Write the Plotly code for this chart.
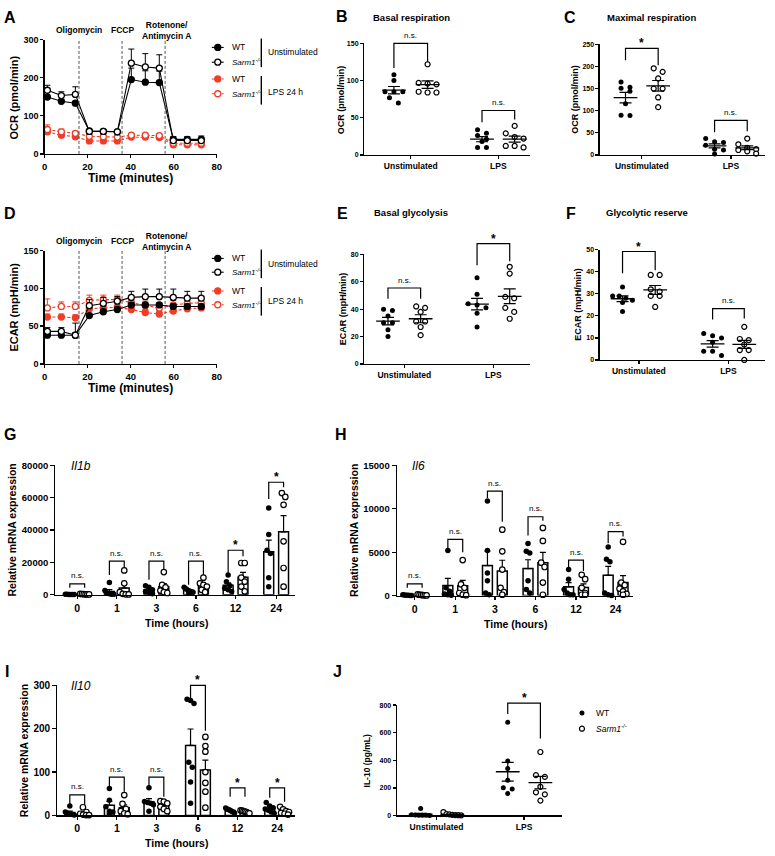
import numpy as np
import plotly.graph_objects as go

W, H = 775, 856
FONT = "Liberation Sans, Arial, Helvetica, sans-serif"
RED = "#F03C28"

# ---------------- DATA ----------------
time_min = [1.3, 7.8, 14.3, 20.8, 27.3, 33.8, 40.3, 46.8, 53.3, 59.8, 66.3, 72.8]
injection_times = [16, 36, 56]
injection_labels = ["Oligomycin", "FCCP", "Rotenone/<br>Antimycin A"]

ocr_wt_unstim = [149, 138, 133, 60, 59, 58, 195, 188, 187, 38, 38, 38]
ocr_wt_unstim_err = [5, 5, 5, 3, 3, 3, 30, 30, 30, 6, 6, 6]
ocr_ko_unstim = [167, 153, 156, 59, 59, 58, 238, 228, 225, 35, 35, 35]
ocr_ko_unstim_err = [13, 10, 20, 3, 3, 3, 37, 35, 35, 10, 10, 12]
ocr_wt_lps = [58, 49, 45, 34, 34, 34, 44, 44, 43, 24, 24, 24]
ocr_wt_lps_err = [5, 4, 4, 3, 3, 3, 3, 3, 3, 2, 2, 2]
ocr_ko_lps = [64, 58, 54, 46, 45, 44, 49, 49, 48, 28, 28, 28]
ocr_ko_lps_err = [12, 7, 5, 4, 4, 4, 4, 4, 4, 3, 3, 3]

ecar_wt_unstim = [38, 38, 38, 64, 69, 72, 78, 78, 78, 76, 76, 76]
ecar_wt_unstim_err = [3, 3, 3, 3, 3, 3, 3, 3, 3, 3, 3, 3]
ecar_ko_unstim = [43, 43, 38, 77, 80, 83, 88, 89, 89, 88, 87, 87]
ecar_ko_unstim_err = [5, 5, 16, 8, 8, 6, 8, 10, 10, 11, 9, 9]
ecar_wt_lps = [62, 62, 61, 73, 74, 75, 72, 68, 66, 70, 73, 74]
ecar_wt_lps_err = [4, 4, 4, 4, 4, 4, 4, 4, 4, 4, 4, 4]
ecar_ko_lps = [74, 76, 76, 84, 85, 85, 81, 77, 74, 78, 80, 81]
ecar_ko_lps_err = [12, 6, 6, 7, 6, 6, 6, 6, 6, 6, 6, 6]

groups = ["Unstimulated", "LPS"]
basal_resp_wt = [[108, 100, 85, 85, 85, 77, 70], [34, 29, 26, 21, 18, 10, 10]]
basal_resp_ko = [[122, 97, 96, 95, 84, 85, 84], [39, 29, 24, 22, 12, 12, 10]]
max_resp_wt = [[165, 153, 151, 144, 116, 90, 89], [37, 30, 28, 22, 13, 11, 2]]
max_resp_ko = [[196, 188, 173, 150, 150, 130, 108], [37, 24, 16, 13, 11, 8, 3]]
basal_gly_wt = [[40, 39, 35, 30, 30, 25, 20], [63, 51, 44, 43, 41, 37, 27]]
basal_gly_ko = [[42, 41, 38, 31, 31, 27, 21], [71, 66, 49, 48, 41, 38, 33]]
gly_res_wt = [[33, 29, 29, 28, 27, 26, 22], [12, 11, 10, 8, 4, 4, 2]]
gly_res_ko = [[38.5, 38.5, 32, 31, 29, 29, 24], [15, 9.5, 9, 7, 4.5, 4.5, 0]]

hours = ["0", "1", "3", "6", "12", "24"]
il1b_wt = [[300, 200, 150, 100, 100, 50], [7500, 2500, 1000, 600, 300, 200],
           [5500, 4500, 3000, 2000, 1500, 500], [4500, 3500, 2500, 2000, 1500, 1000],
           [12200, 8000, 5500, 4000, 3000, 2000], [53700, 37200, 27500, 25500, 10400, 4900]]
il1b_ko = [[500, 400, 300, 200, 150, 100], [15000, 7000, 1500, 500, 200, 100],
           [14000, 6000, 4500, 2500, 1500, 1000], [10500, 7000, 6000, 5000, 3000, 1500],
           [19600, 19600, 10500, 8000, 5000, 2000], [62900, 60500, 55600, 33000, 16500, 4900]]
il6_wt = [[100, 80, 50, 30, 20, 10], [5200, 900, 500, 200, 100, 50],
          [10900, 5200, 2600, 1700, 300, 100], [6000, 5100, 4900, 1700, 700, 300],
          [3000, 1900, 700, 300, 100, 100], [5600, 4200, 3900, 300, 100, 0]]
il6_ko = [[150, 100, 80, 50, 30, 20], [4100, 1300, 900, 300, 100, 50],
          [7600, 5100, 3000, 900, 400, 100], [7800, 6300, 3800, 3300, 1500, 100],
          [2400, 1900, 900, 300, 100, 100], [6200, 1500, 1200, 800, 500, 200, 100]]
il10_wt = [[22, 8, 5, 3, 2, 1], [62, 35, 20, 10, 8, 5], [64, 32, 30, 28, 25, 10],
           [268, 265, 258, 123, 111, 77, 28], [17, 15, 13, 12, 10, 8, 6], [30, 22, 18, 15, 12, 8, 5]]
il10_ko = [[19, 8, 4, 2, 1, 1], [47, 27, 15, 10, 5, 3], [33, 32, 28, 20, 15, 10],
           [181, 160, 147, 100, 75, 55, 18], [12, 11, 10, 9, 8, 6, 5], [20, 14, 10, 8, 6, 4, 2]]

il10_pg_wt = [[50, 5, 3, 2, 1, 1, 0], [675, 395, 340, 256, 201, 192, 160]]
il10_pg_ko = [[25, 10, 8, 5, 3, 2, 1], [460, 292, 280, 208, 168, 153, 108]]

# ---------------- HELPERS ----------------
fig = go.Figure()
ann, shapes = [], []
axn = [0]


def fnt(size, bold=False, italic=False, color="black"):
    return dict(family=FONT, size=size, color=color,
                weight="bold" if bold else "normal", style="italic" if italic else "normal")


def text_px(x, y, text, size, bold=False, italic=False, xanchor="center", angle=0):
    ann.append(dict(x=x / W, y=1 - y / H, xref="paper", yref="paper", text=text, showarrow=False,
                    xanchor=xanchor, yanchor="middle", textangle=angle, font=fnt(size, bold, italic)))


def new_axes(g, ytick, ysize, xtickvals=None, xticktext=None, xsize=9, yticklen=4):
    axn[0] += 1
    s = "" if axn[0] == 1 else str(axn[0])
    common = dict(showline=True, linecolor="black", linewidth=1.3, ticks="outside",
                  tickwidth=1.3, tickcolor="black", showgrid=False, zeroline=False, fixedrange=True)
    xr = g.get("xr", [0, g["x1"] - g["x0"]])
    g["xr"] = xr
    fig.update_layout(**{
        "xaxis" + s: dict(domain=[g["x0"] / W, g["x1"] / W], range=xr, anchor="y" + s, ticklen=3,
                          tickvals=xtickvals, ticktext=xticktext, tickfont=fnt(xsize, True), **common),
        "yaxis" + s: dict(domain=[1 - g["yb"] / H, 1 - g["yt"] / H], range=g["yr"], anchor="x" + s,
                          ticklen=yticklen, tickvals=ytick, ticktext=[str(v) for v in ytick],
                          tickfont=fnt(ysize, True), **common)})
    g["xa"], g["ya"] = "x" + s, "y" + s
    return g


def ypx(g, v):
    v = np.asarray(v, float)
    return g["yb"] - (v - g["yr"][0]) / (g["yr"][1] - g["yr"][0]) * (g["yb"] - g["yt"])


def swarm(yp, dythr, step, maxhw):
    yp = np.asarray(yp, float)
    order = np.argsort(yp)
    offs = np.zeros(len(yp))
    clusters, cur = [], [order[0]]
    for i in order[1:]:
        if abs(yp[i] - yp[cur[0]]) < dythr:
            cur.append(i)
        else:
            clusters.append(cur)
            cur = [i]
    clusters.append(cur)
    for c in clusters:
        k = len(c)
        st = step if (k - 1) * step / 2 <= maxhw else (2 * maxhw / (k - 1))
        for j, i in enumerate(c):
            offs[i] = (j - (k - 1) / 2) * st
    return offs


def mk(filled, size, color="black"):
    return dict(symbol="circle", size=size, color=color if filled else "white",
                line=dict(color=color, width=1.2 if not filled else 0))


def add(tr):
    tr.update(showlegend=False, hoverinfo="skip")
    fig.add_trace(tr)


def bracket(xl, xr, top, lb, rb, text):
    path = (f"M {xl / W} {1 - lb / H} L {xl / W} {1 - top / H} "
            f"L {xr / W} {1 - top / H} L {xr / W} {1 - rb / H}")
    shapes.append(dict(type="path", xref="paper", yref="paper", path=path,
                       line=dict(color="black", width=1.2)))
    if text == "*":
        text_px((xl + xr) / 2, top - 5, "*", 12, bold=True)
    else:
        text_px((xl + xr) / 2, top - 8, "n.s.", 8)


def time_panel(g, series):
    for y, err, color, filled, dashed in series:
        add(go.Scatter(x=time_min, y=y, mode="lines+markers", xaxis=g["xa"], yaxis=g["ya"],
                       cliponaxis=False,
                       line=dict(color=color, width=1.1, dash="3px,2px" if dashed else "solid"),
                       marker=dict(symbol="circle", size=6, color=color if filled else "white",
                                   line=dict(color=color, width=1.3)),
                       error_y=dict(type="data", array=err, arrayminus=[0] * len(err), symmetric=False,
                                    color=color, thickness=1.0, width=3)))
    for t in injection_times:
        shapes.append(dict(type="line", xref=g["xa"], yref=g["ya"], x0=t, x1=t, y0=g["yr"][0],
                           y1=g["yr"][1], line=dict(color="#555555", width=1, dash="3px,2px")))


def dot_panel(g, centers, wt, ko, ms=5, step=9, maxhw=10, dythr=5.5):
    for sets, cx_list, filled in [(wt, centers[0::2], True), (ko, centers[1::2], False)]:
        for vals, cx in zip(sets, cx_list):
            vals = np.asarray(vals, float)
            offs = swarm(ypx(g, vals), dythr, step, maxhw)
            xc = cx - g["x0"]
            add(go.Scatter(x=xc + offs, y=vals, mode="markers", marker=mk(filled, ms),
                           xaxis=g["xa"], yaxis=g["ya"], cliponaxis=False))
            m = vals.mean()
            se = vals.std(ddof=1) / np.sqrt(len(vals))
            add(go.Scatter(x=[xc - 12, xc + 12], y=[m, m], mode="lines",
                           line=dict(color="black", width=1.3), xaxis=g["xa"], yaxis=g["ya"]))
            add(go.Scatter(x=[xc], y=[m], mode="markers", marker=dict(size=1, color="rgba(0,0,0,0)"),
                           error_y=dict(type="data", array=[se], color="black", thickness=1.2, width=6),
                           xaxis=g["xa"], yaxis=g["ya"]))


def bar_panel(g, cats, wt, ko, off=7.5, bw=10, ms=5.5):
    for sets, sign, filled in [(wt, -1, True), (ko, 1, False)]:
        xs = [c + sign * off - g["x0"] for c in cats]
        means = [float(np.mean(s)) for s in sets]
        sems = [float(np.std(s, ddof=1) / np.sqrt(len(s))) for s in sets]
        add(go.Bar(x=xs, y=means, width=bw, xaxis=g["xa"], yaxis=g["ya"],
                   marker=dict(color="white", line=dict(color="black", width=1.5)),
                   error_y=dict(type="data", array=sems, arrayminus=[0] * len(sems), symmetric=False,
                                color="black", thickness=1.2, width=3)))
        for s, x in zip(sets, xs):
            s = np.asarray(s, float)
            offs = swarm(ypx(g, s), ms, 3.5, 4.5)
            add(go.Scatter(x=x + offs, y=s, mode="markers", marker=mk(filled, ms),
                           xaxis=g["xa"], yaxis=g["ya"], cliponaxis=False))


# ---------------- PANELS ----------------
gA = new_axes(dict(x0=42, x1=216, yt=34, yb=150, xr=[0, 80], yr=[0, 300]), [0, 100, 200, 300], 9,
              [0, 20, 40, 60, 80], ["0", "20", "40", "60", "80"], 9.5, yticklen=3)
gD = new_axes(dict(x0=42, x1=216, yt=248, yb=363, xr=[0, 80], yr=[0, 150]), [0, 50, 100, 150], 9,
              [0, 20, 40, 60, 80], ["0", "20", "40", "60", "80"], 9.5, yticklen=3)
time_panel(gA, [(ocr_wt_lps, ocr_wt_lps_err, RED, True, True),
                (ocr_ko_lps, ocr_ko_lps_err, RED, False, True),
                (ocr_wt_unstim, ocr_wt_unstim_err, "black", True, False),
                (ocr_ko_unstim, ocr_ko_unstim_err, "black", False, False)])
time_panel(gD, [(ecar_wt_lps, ecar_wt_lps_err, RED, True, True),
                (ecar_ko_lps, ecar_ko_lps_err, RED, False, True),
                (ecar_wt_unstim, ecar_wt_unstim_err, "black", True, False),
                (ecar_ko_unstim, ecar_ko_unstim_err, "black", False, False)])

dot_specs = [
    (dict(x0=365, x1=533, yt=38, yb=151, yr=[0, 150]), [0, 50, 100, 150], [395, 429, 484, 517],
     basal_resp_wt, basal_resp_ko),
    (dict(x0=603, x1=770, yt=39, yb=151, yr=[0, 250]), [0, 50, 100, 150, 200, 250],
     [629, 662, 719, 752], max_resp_wt, max_resp_ko),
    (dict(x0=365, x1=533, yt=252, yb=363, yr=[0, 80]), [0, 20, 40, 60, 80], [389, 422, 479, 512],
     basal_gly_wt, basal_gly_ko),
    (dict(x0=603, x1=770, yt=247, yb=359, yr=[0, 50]), [0, 10, 20, 30, 40, 50],
     [626, 659, 717, 749], gly_res_wt, gly_res_ko),
]
for g, yt, cen, wt, ko in dot_specs:
    ctr = [(cen[0] + cen[1]) / 2 - g["x0"], (cen[2] + cen[3]) / 2 - g["x0"]]
    g = new_axes(g, yt, 7, ctr, groups, 8.5, yticklen=3)
    dot_panel(g, cen, wt, ko)


def bar_axes(g, yt, cats, ysize):
    return new_axes(g, yt, ysize, [c - g["x0"] for c in cats], hours, 10.5)


catsG = [75, 115, 155, 195, 235, 276]
gG = bar_axes(dict(x0=53, x1=295, yt=466, yb=597, yr=[0, 80000]), [0, 20000, 40000, 60000, 80000],
              catsG, 9.5)
bar_panel(gG, catsG, il1b_wt, il1b_ko)

catsH = [416, 457, 497, 538, 579, 619]
gH = bar_axes(dict(x0=398, x1=637, yt=466, yb=598, yr=[0, 15000]), [0, 5000, 10000, 15000], catsH, 9.5)
bar_panel(gH, catsH, il6_wt, il6_ko)

catsI = [75, 115, 155, 197, 237, 277]
gI = bar_axes(dict(x0=55, x1=295, yt=689, yb=821, yr=[0, 300]), [0, 100, 200, 300], catsI, 10)
bar_panel(gI, catsI, il10_wt, il10_ko)

cenJ = [422, 454, 510, 543]
gJ = new_axes(dict(x0=398, x1=565, yt=709, yb=821, yr=[0, 800]), [0, 200, 400, 600, 800], 7,
              [(cenJ[0] + cenJ[1]) / 2 - 398, (cenJ[2] + cenJ[3]) / 2 - 398], groups, 8.5, yticklen=3)
dot_panel(gJ, cenJ, il10_pg_wt, il10_pg_ko, ms=5, step=9, maxhw=9, dythr=5)

# ---------------- BRACKETS ----------------
bracket(395, 429, 38, 63, 57, "n.s.")
bracket(484, 517, 106, 118, 115, "n.s.")
bracket(629, 662, 43, 55, 60, "*")
bracket(719, 752, 116, 128, 127, "n.s.")
bracket(389, 422, 286, 297, 297, "n.s.")
bracket(479, 512, 241, 263, 259, "*")
bracket(626, 659, 249, 271, 268, "*")
bracket(717, 749, 307, 318, 317, "n.s.")
bracket(510, 543, 707, 718, 743, "*")

g_br = [(586, 590, 590, "n.s."), (563, 577, 570, "n.s."), (563, 582, 572, "n.s."),
        (563, 587, 577, "n.s."), (552, 575, 558, "*"), (483, 500, 488, "*")]
for c, (t, lb, rb, s) in zip(catsG, g_br):
    bracket(c - 7.5, c + 7.5, t, lb, rb, s)
h_br = [(586, 590, 590, "n.s."), (541, 552, 554, "n.s."), (492, 499, 523, "n.s."),
        (518, 537, 522, "n.s."), (562, 570, 573, "n.s."), (533, 545, 538, "n.s.")]
for c, (t, lb, rb, s) in zip(catsH, h_br):
    bracket(c - 7.5, c + 7.5, t, lb, rb, s)
i_br = [(800, 810, 810, "n.s."), (782, 792, 797, "n.s."), (782, 792, 802, "n.s."),
        (689, 703, 735, "*"), (793, 802, 802, "*"), (793, 803, 807, "*")]
for c, (t, lb, rb, s) in zip(catsI, i_br):
    bracket(c - 7.5, c + 7.5, t, lb, rb, s)

# ---------------- LEGENDS (overlay axis in pixel coords) ----------------
fig.update_layout(xaxis30=dict(domain=[0, 1], range=[0, W], visible=False, fixedrange=True, anchor="y30"),
                  yaxis30=dict(domain=[0, 1], range=[H, 0], visible=False, fixedrange=True, anchor="x30"))
SARM = "<i>Sarm1<sup>-/-</sup></i>"
for rows, bars in [([42, 57, 74, 89], [(33, 62, 47, "Unstimulated"), (71, 100, 87, "LPS 24 h")]),
                   ([256, 270, 289, 303], [(247, 276, 262, "Unstimulated"), (285, 314, 299, "LPS 24 h")])]:
    specs = [("black", True, False, "WT"), ("black", False, False, SARM),
             (RED, True, True, "WT"), (RED, False, True, SARM)]
    for y, (col, filled, dashed, lab) in zip(rows, specs):
        add(go.Scatter(x=[211, 217, 223], y=[y, y, y], mode="lines", xaxis="x30", yaxis="y30",
                       line=dict(color=col, width=1.1, dash="3px,2px" if dashed else "solid")))
        add(go.Scatter(x=[217], y=[y], mode="markers", xaxis="x30", yaxis="y30",
                       marker=dict(symbol="circle", size=6, color=col if filled else "white",
                                   line=dict(color=col, width=1.3))))
        text_px(229, y, lab, 8.5 if lab == "WT" else 8, xanchor="left")
    for (y0, y1, yl, lab) in bars:
        add(go.Scatter(x=[261, 261], y=[y0, y1], mode="lines", xaxis="x30", yaxis="y30",
                       line=dict(color="black", width=1.4)))
        text_px(266, yl, lab, 8.5, xanchor="left")

add(go.Scatter(x=[585], y=[717], mode="markers", marker=mk(True, 5), xaxis="x30", yaxis="y30"))
add(go.Scatter(x=[585], y=[733], mode="markers", marker=mk(False, 5), xaxis="x30", yaxis="y30"))
text_px(597, 717, "WT", 8.5, xanchor="left")
text_px(597, 733, SARM, 8.5, xanchor="left")

# ---------------- TEXT ----------------
for lab, x, y in [("A", 7, 12), ("B", 343, 11), ("C", 573, 12), ("D", 7, 210), ("E", 343, 210),
                  ("F", 574, 210), ("G", 7, 435), ("H", 342, 435), ("I", 4, 675), ("J", 338, 675)]:
    text_px(x, y, lab, 16, bold=True)

text_px(413, 12, "Basal respiration", 9.5, bold=True)
text_px(655, 12, "Maximal respiration", 9.5, bold=True)
text_px(412, 209, "Basal glycolysis", 9.5, bold=True)
text_px(651, 209, "Glycolytic reserve", 9.5, bold=True)

for y0 in (24, 238):
    text_px(77, y0, injection_labels[0], 8.5, bold=True)
    text_px(121, y0, injection_labels[1], 8.5, bold=True)
    text_px(165, y0 + 1, injection_labels[2], 8.5, bold=True)

text_px(11, 93, "OCR (pmol/min)", 11, bold=True, angle=-90)
text_px(129, 174, "Time (minutes)", 12, bold=True)
text_px(11, 305, "ECAR (mpH/min)", 11, bold=True, angle=-90)
text_px(129, 387, "Time (minutes)", 12, bold=True)
text_px(341, 95, "OCR (pmol/min)", 9, bold=True, angle=-90)
text_px(578, 95, "OCR (pmol/min)", 9, bold=True, angle=-90)
text_px(343, 307, "ECAR (mpH/min)", 9, bold=True, angle=-90)
text_px(581, 303, "ECAR (mpH/min)", 9, bold=True, angle=-90)
text_px(9, 531, "Relative mRNA expression", 10.5, bold=True, angle=-90)
text_px(175, 626, "Time (hours)", 10.5, bold=True)
text_px(354, 532, "Relative mRNA expression", 10.5, bold=True, angle=-90)
text_px(518, 627, "Time (hours)", 10.5, bold=True)
text_px(22, 755, "Relative mRNA expression", 10.5, bold=True, angle=-90)
text_px(175, 849, "Time (hours)", 10.5, bold=True)
text_px(368, 765, "IL-10 (pg/mL)", 8.5, bold=True, angle=-90)

text_px(67, 467, "Il1b", 12, italic=True, xanchor="left")
text_px(411, 467, "Il6", 12, italic=True, xanchor="left")
text_px(67, 690, "Il10", 12, italic=True, xanchor="left")

fig.update_layout(width=W, height=H, margin=dict(l=0, r=0, t=0, b=0), showlegend=False,
                  plot_bgcolor="rgba(0,0,0,0)", paper_bgcolor="white", barmode="overlay",
                  font=dict(family=FONT, color="black"), annotations=ann, shapes=shapes)
fig.write_html("out.html", config={"displayModeBar": False, "staticPlot": True},
               post_script="document.body.style.margin='0px';")
